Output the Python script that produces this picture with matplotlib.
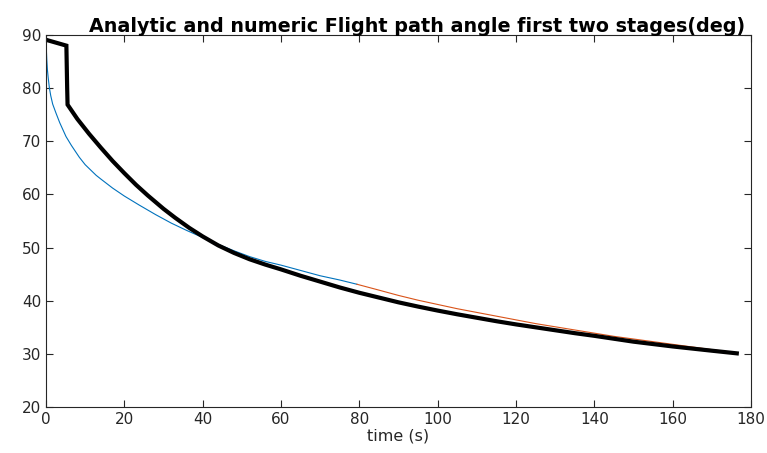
import numpy as np
import matplotlib.pyplot as plt

plt.rcParams['font.family'] = ['DejaVu Sans']

# numeric solution (black)
t_num = [0, 5.2, 5.4, 5.5, 8.0, 11.0, 14.0, 17.0, 20.0, 23.0, 26.0, 30.0, 33.0, 36.6,
         40.0, 44.0, 48.0, 52.0, 56.0, 60.0, 65.0, 70.0, 75.0, 80.0, 85.0, 90.0,
         95.0, 100.0, 105.0, 110.0, 115.0, 120.0, 125.0, 130.0, 135.0, 140.0,
         145.0, 150.0, 155.0, 160.0, 165.0, 170.0, 176.4]
a_num = [89.1, 88.0, 80.0, 76.9, 74.2, 71.4, 68.8, 66.3, 64.0, 61.8, 59.8, 57.3, 55.6, 53.7,
         52.1, 50.4, 49.0, 47.8, 46.8, 45.9, 44.7, 43.6, 42.5, 41.5, 40.6, 39.7,
         38.9, 38.15, 37.45, 36.8, 36.15, 35.55, 35.0, 34.45, 33.9, 33.4,
         32.85, 32.3, 31.85, 31.4, 31.0, 30.6, 30.1]

# analytic, first stage (blue)
t_an1 = [0, 0.05, 0.1, 0.2, 0.35, 0.55, 0.85, 1.2, 1.7, 2.55, 3.5, 4.3, 5.1, 6.5, 8.5,
         10.0, 12.8, 14.0, 17.0, 20.0, 23.8, 28.0, 32.0, 36.0, 40.0, 44.0, 48.0,
         52.0, 56.0, 60.0, 65.0, 70.0, 75.0, 79.4]
a_an1 = [89.6, 88.5, 87.0, 85.3, 83.5, 82.0, 80.1, 78.6, 77.0, 75.3, 73.5, 72.2, 70.9, 69.2, 67.0,
         65.6, 63.6, 62.9, 61.2, 59.7, 58.0, 56.2, 54.6, 53.2, 51.9, 50.6, 49.4,
         48.3, 47.4, 46.7, 45.7, 44.7, 43.9, 43.1]

# analytic, second stage (red)
t_an2 = [79.4, 85.0, 90.0, 95.0, 100.0, 105.0, 110.0, 115.0, 120.0, 125.0, 130.0,
         135.0, 140.0, 145.0, 150.0, 155.0, 160.0, 165.0, 170.0, 176.4]
a_an2 = [43.1, 42.0, 41.0, 40.1, 39.3, 38.5, 37.8, 37.1, 36.4, 35.7, 35.1,
         34.5, 33.9, 33.3, 32.8, 32.3, 31.8, 31.3, 30.8, 30.2]

fig = plt.figure(figsize=(7.67, 4.53), dpi=100)
ax = fig.add_axes([0.060, 0.1015, 0.919, 0.8212])

ax.plot(t_an1, a_an1, color='#0072BD', lw=0.8)
ax.plot(t_an2, a_an2, color='#D95319', lw=0.8)
ax.plot(t_num, a_num, color='black', lw=3.0, solid_joinstyle='miter')

ax.set_xlim(0, 180)
ax.set_ylim(20, 90)
ax.set_xticks(np.arange(0, 181, 20))
ax.set_yticks(np.arange(20, 91, 10))

grey = '#262626'
for s in ax.spines.values():
    s.set_color(grey)
    s.set_linewidth(0.8)
ax.tick_params(direction='in', top=True, right=True, length=5, width=0.8,
               color=grey, labelcolor=grey, labelsize=11)

ax.set_xlabel('time (s)', fontsize=11.5, color=grey, labelpad=1)
ax.set_title('Analytic and numeric Flight path angle first two stages(deg)',
             fontsize=13.8, fontweight='bold', pad=2, x=0.526)

fig.savefig('out.png', dpi=100)
